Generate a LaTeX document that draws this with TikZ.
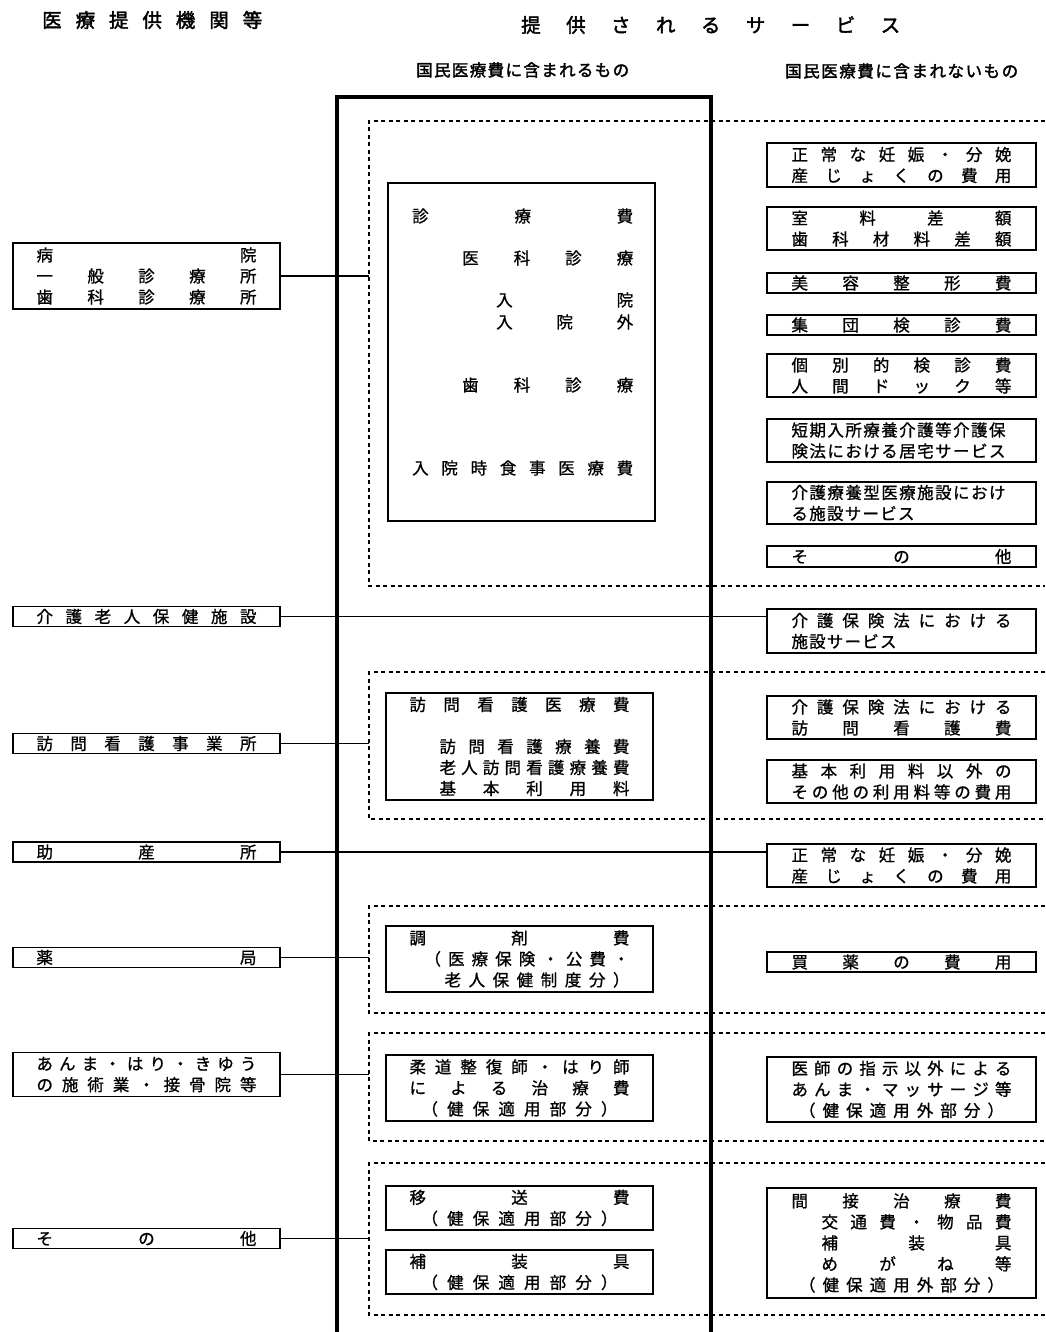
\documentclass[tikz,border=0pt]{standalone}
\usepackage{fontspec}
\newfontfamily\jfont[FakeBold=1]{Noto Sans CJK JP}
\newfontfamily\jfontb[FakeBold=2]{Noto Sans CJK JP}
\newcommand\jbody{\jfont\fontsize{16.5}{21}\selectfont}

% spread the characters of #2 evenly over the width #1
\def\jspEnd{}
\def\jspA#1{#1\jspB}
\def\jspB#1{\ifx#1\jspEnd\else\hfill#1\expandafter\jspB\fi}
\newcommand\jsp[2]{\makebox[#1][s]{\jspA#2\jspEnd}}
\newcommand\jrow[1]{\jsp{220pt}{#1}}
\newcommand\jrt[2]{\makebox[220pt][r]{\jsp{#1}{#2}}}
\newcommand\jlt[2]{\makebox[220pt][l]{\jsp{#1}{#2}}}

\begin{document}
\begin{tikzpicture}[x=1pt, y=-1pt,
  box/.style={draw, line width=1.9pt, inner sep=0pt, align=center, font=\jbody},
  txt/.style={inner sep=0pt, font=\jbody},
  ttl/.style={inner sep=0pt, font=\jfontb\fontsize{19.5}{22}\selectfont},
  sub/.style={inner sep=0pt, font=\jfontb\fontsize{16.5}{18}\selectfont},
  grp/.style={line width=1.5pt, dash pattern=on 4pt off 3.5pt},
  link/.style={line width=1.3pt}]
  \useasboundingbox (0,0) rectangle (1045,1332);

  % ---------------- headings ----------------
  \node[ttl, anchor=west] (t1) at (42,20) {\jsp{220pt}{医療提供機関等}};
  \node[ttl, anchor=west] (t2) at (521,25) {\jsp{379pt}{提供されるサービス}};
  \node[sub, anchor=west] (t3) at (416,70) {\jsp{213pt}{国民医療費に含まれるもの}};
  \node[sub, anchor=west] (t4) at (785,71) {\jsp{233pt}{国民医療費に含まれないもの}};

  % ---------------- dashed bands ----------------
  \foreach \g/\a/\b in {g1/121/586, g2/672/819, g3/906/1013, g4/1033/1141, g5/1163/1315}{
    \draw[grp] (1045,\a) -- (369,\a) -- (369,\b) -- (1045,\b);
    \coordinate (\g) at (369,\a);
  }

  % ---------------- frame of the included services ----------------
  \draw[line width=3.2pt] (337,1332) -- (337,97) -- (711,97) -- (711,1332);

  % ---------------- providers (left) ----------------
  \node[box, minimum width=267, minimum height=66] (hosp) at (146.5,276)
    {\jrow{病院}\\\jrow{一般診療所}\\\jrow{歯科診療所}};
  \node[box, minimum width=267, minimum height=20] (kaigo) at (146.5,616.5) {\jrow{介護老人保健施設}};
  \node[box, minimum width=267, minimum height=20] (houmon) at (146.5,743.5) {\jrow{訪問看護事業所}};
  \node[box, minimum width=267, minimum height=20] (josan) at (146.5,852) {\jrow{助産所}};
  \node[box, minimum width=267, minimum height=20] (yakkyoku) at (146.5,957.5) {\jrow{薬局}};
  \node[box, minimum width=267, minimum height=44] (anma) at (146.5,1074.5)
    {\jrow{あんま・はり・きゆう}\\\jrow{の施術業・接骨院等}};
  \node[box, minimum width=267, minimum height=20] (sonota) at (146.5,1238.5) {\jrow{その他}};

  % ---------------- included (middle) ----------------
  \node[box, minimum width=267, minimum height=338] (shinryo) at (521.5,352) {};
  \node[txt, anchor=west] (s1) at (412,216) {\jsp{221pt}{診療費}};
  \node[txt, anchor=west] (s2) at (462,258) {\jsp{171pt}{医科診療}};
  \node[txt, anchor=west] (s3) at (496,300) {\jsp{137pt}{入院}};
  \node[txt, anchor=west] (s4) at (496,322) {\jsp{137pt}{入院外}};
  \node[txt, anchor=west] (s5) at (462,385) {\jsp{171pt}{歯科診療}};
  \node[txt, anchor=west] (s6) at (412,468) {\jsp{221pt}{入院時食事医療費}};

  \node[box, minimum width=267, minimum height=107] (kango) at (519.5,746.5)
    {\jrow{訪問看護医療費}\\[21pt]\jrt{190pt}{訪問看護療養費}\\\jrt{190pt}{老人訪問看護療養費}\\\jrt{190pt}{基本利用料}};
  \node[box, minimum width=267, minimum height=66] (chozai) at (519.5,959)
    {\jrow{調剤費}\\\jrt{205pt}{（医療保険・公費・}\\\jrt{185pt}{老人保健制度分）}};
  \node[box, minimum width=267, minimum height=66] (judo) at (519.5,1088)
    {\jrow{柔道整復師・はり師}\\\jrow{による治療費}\\\jsp{196pt}{（健保適用部分）}};
  \node[box, minimum width=267, minimum height=44] (iso) at (519.5,1208)
    {\jrow{移送費}\\\jsp{196pt}{（健保適用部分）}};
  \node[box, minimum width=267, minimum height=44] (hosougu) at (519.5,1272)
    {\jrow{補装具}\\\jsp{196pt}{（健保適用部分）}};

  % ---------------- not included (right) ----------------
  \node[box, minimum width=269, minimum height=44] (r1) at (901.5,165)
    {\jrow{正常な妊娠・分娩}\\\jrow{産じょくの費用}};
  \node[box, minimum width=269, minimum height=43] (r2) at (901.5,228.5)
    {\jrow{室料差額}\\\jrow{歯科材料差額}};
  \node[box, minimum width=269, minimum height=20] (r3) at (901.5,283) {\jrow{美容整形費}};
  \node[box, minimum width=269, minimum height=20] (r4) at (901.5,325) {\jrow{集団検診費}};
  \node[box, minimum width=269, minimum height=43] (r5) at (901.5,375.5)
    {\jrow{個別的検診費}\\\jrow{人間ドック等}};
  \node[box, minimum width=269, minimum height=43] (r6) at (901.5,440.5)
    {\jlt{214pt}{短期入所療養介護等介護保}\\\jlt{214pt}{険法における居宅サービス}};
  \node[box, minimum width=269, minimum height=42] (r7) at (901.5,503)
    {\jlt{214pt}{介護療養型医療施設におけ}\\\jlt{123pt}{る施設サービス}};
  \node[box, minimum width=269, minimum height=21] (r8) at (901.5,556.5) {\jrow{その他}};
  \node[box, minimum width=269, minimum height=44] (r9) at (901.5,631)
    {\jrow{介護保険法における}\\\jlt{105pt}{施設サービス}};
  \node[box, minimum width=269, minimum height=43] (r10) at (901.5,717.5)
    {\jrow{介護保険法における}\\\jrow{訪問看護費}};
  \node[box, minimum width=269, minimum height=43] (r11) at (901.5,781.5)
    {\jrow{基本利用料以外の}\\\jrow{その他の利用料等の費用}};
  \node[box, minimum width=269, minimum height=43] (r12) at (901.5,865.5)
    {\jrow{正常な妊娠・分娩}\\\jrow{産じょくの費用}};
  \node[box, minimum width=269, minimum height=20] (r13) at (901.5,962) {\jrow{買薬の費用}};
  \node[box, minimum width=269, minimum height=65] (r14) at (901.5,1089.5)
    {\jrow{医師の指示以外による}\\\jrow{あんま・マッサージ等}\\\jsp{205pt}{（健保適用外部分）}};
  \node[box, minimum width=269, minimum height=110] (r15) at (901.5,1243)
    {\jrow{間接治療費}\\\jrt{190pt}{交通費・物品費}\\\jrt{190pt}{補装具}\\\jrt{190pt}{めがね等}\\\jsp{205pt}{（健保適用外部分）}};

  % ---------------- connectors ----------------
  \draw[link] (hosp.east) -- (hosp.east -| g1);
  \draw[link] (kaigo.east) -- (kaigo.east -| r9.west);
  \draw[link] (houmon.east) -- (houmon.east -| g2);
  \draw[link] (josan.east) -- (josan.east -| r12.west);
  \draw[link] (yakkyoku.east) -- (yakkyoku.east -| g3);
  \draw[link] (anma.east) -- (anma.east -| g4);
  \draw[link] (sonota.east) -- (sonota.east -| g5);
\end{tikzpicture}
\end{document}
